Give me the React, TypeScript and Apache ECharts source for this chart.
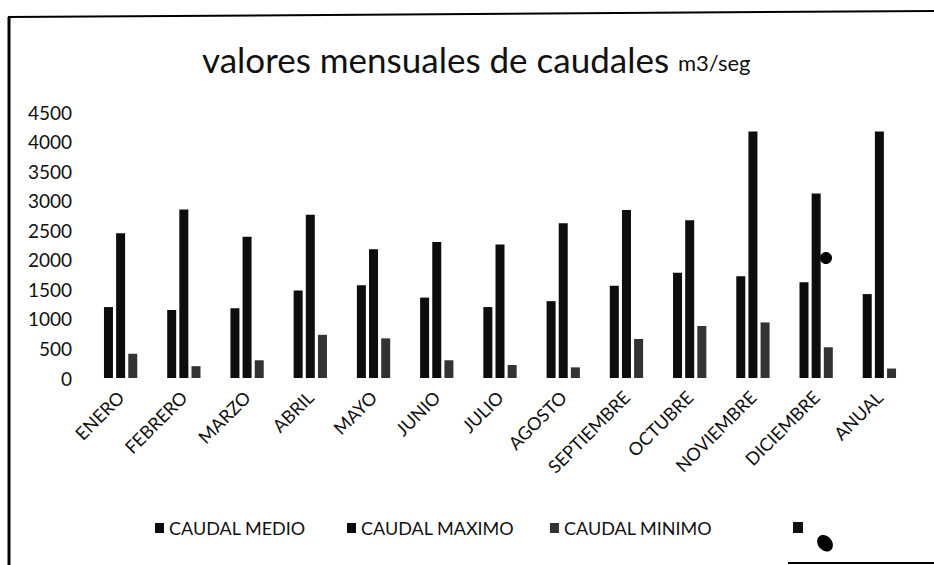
import React, { useEffect, useRef } from "react";
import * as echarts from "echarts";

const categories = ["ENERO", "FEBRERO", "MARZO", "ABRIL", "MAYO", "JUNIO", "JULIO", "AGOSTO", "SEPTIEMBRE", "OCTUBRE", "NOVIEMBRE", "DICIEMBRE", "ANUAL"];
const caudalMedio = [1200, 1150, 1180, 1480, 1570, 1360, 1200, 1300, 1560, 1780, 1720, 1620, 1420];
const caudalMaximo = [2450, 2850, 2390, 2760, 2180, 2300, 2260, 2620, 2840, 2670, 4170, 3120, 4170];
const caudalMinimo = [410, 200, 300, 730, 670, 300, 220, 180, 660, 880, 940, 520, 160];
const seriesNames = ["CAUDAL MEDIO", "CAUDAL MAXIMO", "CAUDAL MINIMO"];
const yMin = 0;
const yMax = 4500;
const yInterval = 500;

const FONT = "Lato, 'Open Sans', sans-serif";

export default function App() {
  const ref = useRef<HTMLDivElement>(null);
  useEffect(() => {
    document.body.style.margin = "0";
    const chart = echarts.init(ref.current!, null, { renderer: "svg" });
    const legendText = { fontFamily: FONT, fontSize: 18, color: "#111" };
    const legendAt = (name: string, left: number) => ({
      data: [name],
      left,
      top: 519,
      itemWidth: 9,
      itemHeight: 10,
      icon: "rect",
      padding: 0,
      textStyle: legendText,
    });
    chart.setOption({
      animation: false,
      backgroundColor: "#ffffff",
      textStyle: { fontFamily: FONT, color: "#000" },
      title: {
        text: "{a|valores mensuales de caudales }{b|m3/seg}",
        left: 202,
        top: 36,
        padding: 0,
        textStyle: {
          rich: {
            a: { fontFamily: FONT, fontSize: 35, fontWeight: "normal", color: "#111", verticalAlign: "bottom", lineHeight: 40 },
            b: { fontFamily: FONT, fontSize: 22, fontWeight: "normal", color: "#111", verticalAlign: "bottom", lineHeight: 40, padding: [0, 0, 3, 0] },
          },
        },
      },
      legend: [
        legendAt(seriesNames[0], 155),
        legendAt(seriesNames[1], 347),
        legendAt(seriesNames[2], 550),
      ],
      grid: { left: 89, right: 23, top: 112, bottom: 187, containLabel: false },
      xAxis: {
        type: "category",
        data: categories,
        axisLine: { show: false },
        axisTick: { show: false },
        axisLabel: { rotate: 45, fontSize: 18, color: "#111", fontFamily: FONT, margin: 16, interval: 0 },
      },
      yAxis: {
        type: "value",
        min: yMin,
        max: yMax,
        interval: yInterval,
        splitLine: { show: false },
        axisLine: { show: false },
        axisTick: { show: false },
        axisLabel: { fontSize: 19, color: "#111", fontFamily: FONT, margin: 17, formatter: (v: number) => String(v) },
      },
      series: [
        { name: seriesNames[0], type: "bar", data: caudalMedio, barWidth: 9, barGap: "35%", itemStyle: { color: "#0d0d0d" } },
        { name: seriesNames[1], type: "bar", data: caudalMaximo, barWidth: 9, barGap: "35%", itemStyle: { color: "#0d0d0d" } },
        { name: seriesNames[2], type: "bar", data: caudalMinimo, barWidth: 9, barGap: "35%", itemStyle: { color: "#333333" } },
      ],
      graphic: [
        { type: "line", shape: { x1: 9, y1: 17, x2: 9, y2: 565 }, style: { stroke: "#000", lineWidth: 3 } },
        { type: "line", shape: { x1: 8, y1: 17, x2: 934, y2: 11 }, style: { stroke: "#000", lineWidth: 2 } },
        { type: "line", shape: { x1: 788, y1: 563, x2: 934, y2: 563 }, style: { stroke: "#000", lineWidth: 2 } },
        { type: "rect", shape: { x: 793, y: 522, width: 10, height: 11 }, style: { fill: "#111" } },
        { type: "ellipse", shape: { cx: 825, cy: 543, rx: 7, ry: 9 }, rotation: 0.7, originX: 825, originY: 543, style: { fill: "#000" } },
        { type: "ellipse", shape: { cx: 826, cy: 258, rx: 6, ry: 6 }, style: { fill: "#000" } },
      ],
    });
    return () => chart.dispose();
  }, []);
  return <div ref={ref} style={{ width: 934, height: 565 }} />;
}
